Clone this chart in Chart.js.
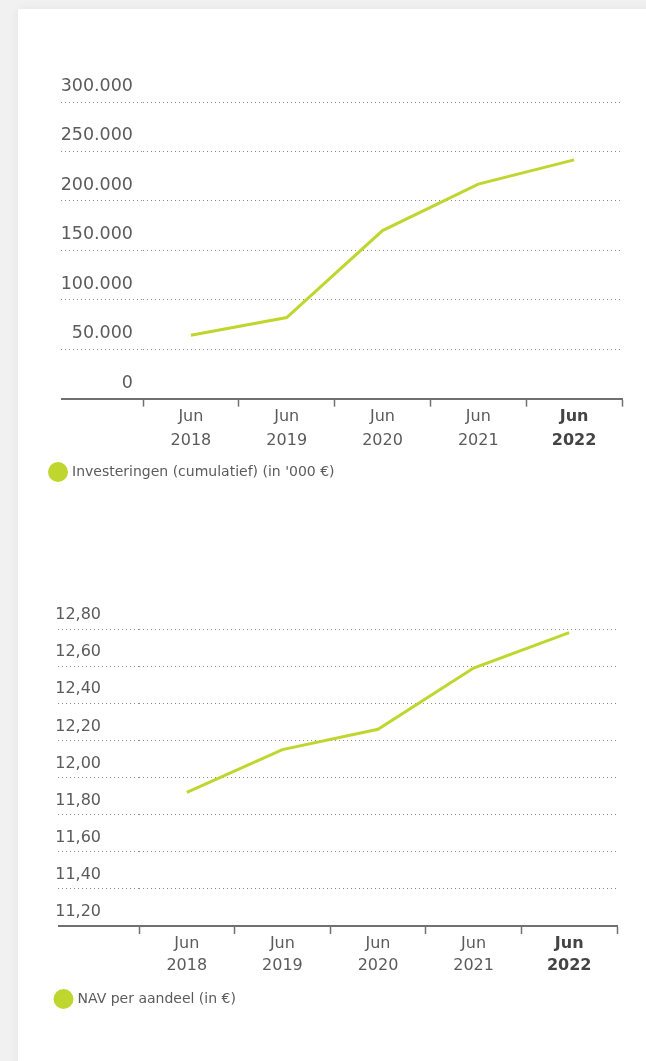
<!DOCTYPE html>
<html><head><meta charset="utf-8">
<script src="https://cdn.jsdelivr.net/npm/chart.js@4"></script>
<style>
html,body{margin:0;padding:0;background:#f1f1f1;width:646px;height:1061px;overflow:hidden;}
#card{position:absolute;left:18px;top:9px;width:640px;height:1070px;background:#fff;box-shadow:0 0 10px rgba(0,0,0,0.06);}
.wrap{position:absolute;left:0;width:646px;}
#w1{top:0;height:530px;}
#w2{top:530px;height:531px;}
</style></head><body>
<div id="card"></div>
<div class="wrap" id="w1"><canvas id="c1"></canvas></div>
<div class="wrap" id="w2"><canvas id="c2"></canvas></div>
<script>
const categories = [['Jun','2018'],['Jun','2019'],['Jun','2020'],['Jun','2021'],['Jun','2022']];
const investments = [64000, 82000, 170000, 217000, 241500];
const navPerShare = [11.92, 12.15, 12.26, 12.59, 12.78];
const investTickLabels = ['0','50.000','100.000','150.000','200.000','250.000','300.000'];
const navTickLabels = ['11,20','11,40','11,60','11,80','12,00','12,20','12,40','12,60','12,80'];
const investLabel = "Investeringen (cumulatief) (in '000 €)";
const navLabel = 'NAV per aandeel (in €)';

const GREEN = '#bfd62f';
const TEXT = '#5b5b5b';
const AXIS = '#707070';
const GRID = '#8c8c8c';
Chart.defaults.font.family = "'DejaVu Sans', sans-serif";
Chart.defaults.color = TEXT;

function makeChart(id, values, label, min, max, step, tickLabels, o) {
  const isMin = c => c.tick && Math.abs(c.tick.value - min) < 1e-9;
  return new Chart(document.getElementById(id), {
    type: 'line',
    data: { labels: categories, datasets: [{ label, data: values, borderColor: GREEN, backgroundColor: GREEN,
      borderWidth: 3, pointRadius: 0, pointHoverRadius: 0, tension: 0 }] },
    options: {
      responsive: true, maintainAspectRatio: false, animation: false,
      layout: { padding: { left: o.padLeft, right: o.padRight, top: o.padTop, bottom: o.padBottom } },
      plugins: {
        legend: { position: 'bottom', align: 'start',
          labels: { usePointStyle: true, pointStyle: 'circle', boxHeight: 12, padding: 10, color: TEXT, font: { size: 14 } } },
        tooltip: { enabled: false }
      },
      scales: {
        x: {
          offset: true,
          grid: { offset: true, drawOnChartArea: false, drawTicks: true, tickLength: 8, tickColor: AXIS, tickWidth: 1.5 },
          border: { display: true, color: AXIS, width: 2 },
          ticks: { padding: -1, maxRotation: 0, autoSkip: false,
            font: c => ({ size: 16, lineHeight: o.xLine, weight: c.index === 4 ? 'bold' : 'normal' }),
            color: c => c.index === 4 ? '#444444' : TEXT },
          afterFit: s => { s.height += o.xExtra; }
        },
        y: {
          min, max,
          ticks: { stepSize: step, padding: o.tickPad, labelOffset: o.labelOffset, color: TEXT,
            font: { size: o.yFont }, callback: (v, i) => tickLabels[i] },
          grid: { tickLength: o.tickLen,
            color: c => isMin(c) ? AXIS : GRID,
            lineWidth: c => isMin(c) ? 2 : 1,
            tickColor: c => isMin(c) ? AXIS : GRID,
            tickWidth: c => isMin(c) ? 2 : 1,
            tickBorderDash: c => isMin(c) ? [] : [1, 3] },
          border: { display: false, dash: c => isMin(c) ? [] : [1, 3] },
          afterFit: s => { s.width = o.yWidth; }
        }
      }
    }
  });
}

makeChart('c1', investments, investLabel, 0, 300000, 50000, investTickLabels,
  { padLeft: 41, padRight: 24, padTop: 102, padBottom: 41, xExtra: 4, xLine: 1.45, yWidth: 102, tickLen: 82, tickPad: -72, labelOffset: -15.5, yFont: 17.5 });
makeChart('c2', navPerShare, navLabel, 11.2, 12.8, 0.2, navTickLabels,
  { padLeft: 46.5, padRight: 29, padTop: 99, padBottom: 45, xExtra: 6.5, xLine: 1.36, yWidth: 92.5, tickLen: 81, tickPad: -43, labelOffset: -14, yFont: 16 });
</script>
</body></html>
